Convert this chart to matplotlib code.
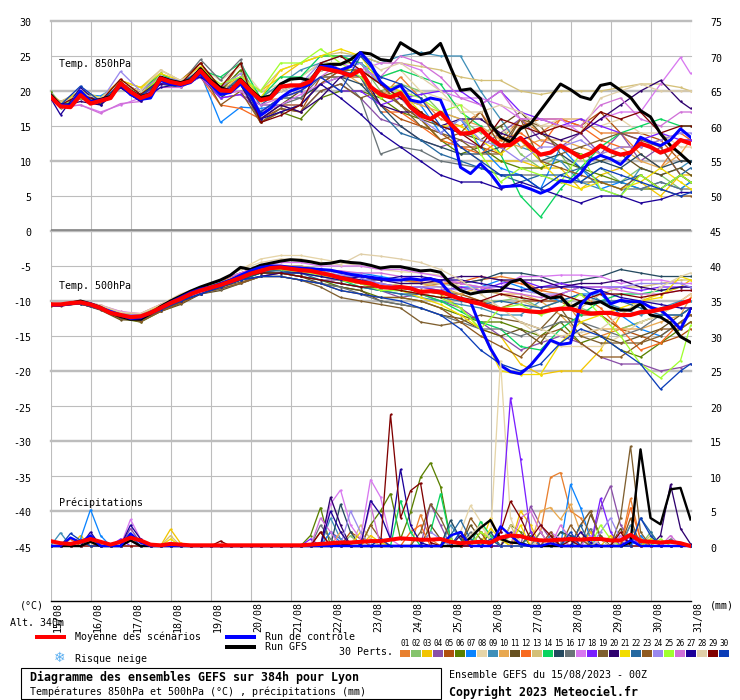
import numpy as np
import matplotlib
matplotlib.use('Agg')
import matplotlib.pyplot as plt
from matplotlib.patches import Rectangle
from matplotlib.transforms import ScaledTranslation

# date ticks and legend
dates = ['15/08','16/08','17/08','18/08','19/08','20/08','21/08','22/08','23/08',
         '24/08','25/08','26/08','27/08','28/08','29/08','30/08','31/08']
colors = ['#e8802f','#85c46c','#f2c500','#8a4fa8','#b0500f','#5a8000','#0a84ff','#e6d5a8','#3f8fb8','#e8a850',
          '#66501f','#f86a1f','#d4c078','#0ad45f','#254a60','#6a7478','#d878f0','#7a1fff','#7f5f2f','#2e006e',
          '#f2dc00','#2468a0','#8f5a20','#9a88ee','#a0ff30','#d070d8','#1c0099','#e0cfa8','#800000','#0a3cb8']
left_ticks = [30,25,20,15,10,5,0,-5,-10,-15,-20,-25,-30,-35,-40,-45]
right_ticks = [75,70,65,60,55,50,45,40,35,30,25,20,15,10,5,0]

# 6h steps for the main runs
t850_mean = [19.2,17.8,17.7,19.4,18.2,18.6,19,21.1,19.9,19,19.5,21.8,21.3,21,21.4,22.9,21.3,20.1,20,21.5,20,18.7,19,20.6,20.8,20.8,21.4,23.3,23,22.7,22.2,23,
             20.6,19.5,19.1,19.7,17.7,16.5,16,16.9,15.3,13.9,14,14.6,13.2,12.2,12.3,13.3,12,10.9,11.2,12.2,11.4,10.5,11.1,12.2,11.4,10.9,11.2,12.5,12,11.2,11.7,13,12.5]
t850_ctrl = [19,18,18,20,18.5,18.7,19,21,19.5,18.8,19,21.5,21,20.8,21.2,22.5,21,19.5,19.8,21,19.5,16.5,17.5,19,20,20.5,21,23.5,23.5,23,23.5,25.5,
             23.9,21.3,20.1,20.8,18.7,18.4,19,18.7,15.3,9.1,8.2,9.6,8.2,6.3,6.4,6.5,6,5.4,6,7.2,7,8.2,10.1,10.8,10.3,9.5,11,13.4,12.7,12.2,13,14.6,13.4]
t850_gfs = [19.5,18,18,19.5,18.5,18.8,19.2,21.2,20,19.2,19.6,22,21.5,21.2,21.6,23.2,21.6,20.5,20,21.7,20.2,19,19.3,21,21.7,21.8,21.5,23.6,23.8,23.8,24.5,25.5,
            25.3,24.5,24.3,26.9,26,25.2,25.5,26.8,23.4,20.1,20.3,18.9,15.3,13.4,12.7,14.6,15.3,17.2,19.1,21,20.2,19.2,18.8,20.8,21.1,20.1,19.1,17.2,16.3,13.9,12.2,11,9.7]

t500_mean = [-10.5,-10.5,-10.3,-10.2,-10.5,-11,-11.7,-12,-12.3,-12.2,-11.7,-11,-10.3,-9.7,-9,-8.5,-8.1,-7.7,-7.2,-6.7,-6.1,-5.7,-5.3,-5.2,-5.4,-5.6,-5.7,-6,-6.3,-6.7,-7,-7.3,
             -7.5,-8,-8.1,-8,-8.2,-8.7,-8.6,-8.7,-9.2,-9.7,-10.1,-10.4,-10.9,-11.2,-11.3,-11.3,-11.5,-11.6,-11.3,-11.1,-11.1,-11.5,-11.8,-11.7,-11.7,-12,-12,-11.6,-11.5,-11.2,-10.9,-10.4,-9.9]
t500_ctrl = [-10.6,-10.6,-10.4,-10.2,-10.4,-11,-11.5,-12,-12.5,-12.4,-11.6,-11,-10.2,-9.5,-8.8,-8.3,-8,-7.5,-7,-6.3,-5.7,-5.2,-5,-5,-5.2,-5.3,-5.4,-5.5,-5.6,-5.9,-6.2,-6.4,
             -6.6,-6.8,-7,-7,-6.8,-7,-6.8,-7.3,-9,-9.7,-10.1,-13.7,-16.8,-19.2,-20.1,-20.4,-19.2,-17.5,-15.6,-16.2,-16,-10.6,-9,-8.5,-10.4,-9.9,-10.1,-10.1,-10.9,-11.3,-12.5,-14,-11.3]
t500_gfs = [-10.5,-10.6,-10.3,-10,-10.4,-10.9,-11.7,-12.2,-12.6,-12.6,-11.8,-10.8,-10,-9.3,-8.6,-8,-7.5,-7,-6.3,-5.2,-5.5,-4.9,-4.6,-4.3,-4.1,-4.2,-4.4,-4.7,-4.6,-4.3,-4.5,-4.6,
            -4.9,-5.3,-5.1,-5.1,-5.4,-5.7,-5.6,-5.9,-7.5,-8.5,-9,-8.7,-8.6,-8.5,-7.3,-6.9,-8.2,-9,-9.6,-9.4,-10.9,-10.1,-10.4,-10.1,-10.9,-11.3,-11.3,-10.4,-12,-12.3,-13.2,-15.1,-15.9]

rain_mean = [0.7,0.4,0.3,0.6,1,0.6,0.2,0.6,1.2,0.8,0.2,0.1,0.3,0.2,0.1,0.1,0.1,0.1,0.1,0.1,0.1,0.1,0.1,0.1,0.1,0.1,0.2,0.3,0.4,0.5,0.5,0.6,
             0.7,0.7,0.9,1.1,1,0.9,0.9,1,0.6,0.4,0.5,0.6,0.5,1.2,1.5,1.4,1,0.8,0.8,0.9,1,0.9,1,1,0.8,0.8,1.6,0.7,0.6,0.5,0.6,0.4,0]
rain_ctrl = {2:1.2, 3:0.5, 4:1.5, 8:1.8, 9:0.5, 40:1.5, 41:2, 45:2.8, 46:1.5, 47:0.3, 50:0.4, 58:0.8}
rain_gfs = {4:0.6, 8:0.8, 29:0.4, 42:1.2, 43:2.6, 44:3.7, 45:1, 46:0.5, 47:0.4, 58:0.5, 59:13.8, 60:4, 61:3.1, 62:8.1, 63:8.3, 64:3.8}

# members, read at these 6h step numbers
member_steps = [0,1,3,5,7,9,11,13,15,17, 19,21,23,25,27,29,31,33, 35,37,39,41,43,45,47,49, 51,53,55,57,59,61,63,64]

t850_members = [
 [19.5,18,19.5,19,21,19.5,22,21,23,19.5, 22,17,19,20,23,23,23,19, 22,19,16,15,17,13,16,14, 16,16,14,14,11,9,13,13],
 [20,18.2,19,18.5,21,19.5,22.5,21,22.5,20, 23,19,21,22,24,24,24,20, 21,20,17,16,14,15,11,9, 11,7,9,7,9,8,6,7],
 [19.5,18.5,19.5,19,21.5,20.5,22,21,23,20.5, 22,20,22,24,25,25,24,21, 19,16,13,12,10,10,10,9, 9,6,8,9,7,5,8,8],
 [19.3,18,19,18.5,21,19,21.5,21,22.5,19, 19.5,18,18,17,20,21,19,16, 15,13,12,13,12,14,16,13, 12,14,11,14,10,12,8,7],
 [19.5,18,19.5,18.5,21,20,22,21.5,24,20, 24,16,17.5,17,22,22,22,18, 16,15,14,12,12,11,15,16, 16,15,17,14,14,13,10,10],
 [19.8,17.5,19,18.2,21,19.2,22,21,23,20, 23,15.5,17,16,19,20,20,19, 17,16,13,11,12,10,9,9, 10,9,8,7,6,6,8,7],
 [19,18.5,19.5,19.3,21,19.5,21.5,21,22.5,15.5, 17.7,17.5,18,18,21,23,24,21, 19,18,14,16,12,9,8,6, 12,9,6,7,6,7,6,7],
 [19.2,18,20,18.5,21,19.5,23,21.5,23.5,21.5, 23.5,20,21,22,24,24,25,22, 23,20,19,18,16,14,15,15, 16,16,15,16,14,14,12,12],
 [19,18,19,18.5,20.5,19,21.5,21,22.5,19, 22,19,21,23,24,25,25,24, 25,25.5,25,25,20,16,12,11, 10,7,6,5,9,8,9,10],
 [19.5,18,19.5,18.7,21,20,22.5,21,23,20, 21,18.5,19,20,23,23,21,20, 19,18,17,16,15,13,12,13, 13,12,11,12,10,9,11,13],
 [19,18,19,18.5,21,19,21.5,21,23,20.5, 21,17,18,20,22,23,23,21, 18,16,15,14,13,15,17,14, 12,11,10,11,9,8,9,8],
 [19.3,18,19,18.5,21,19.5,21.5,21,22,18, 17.5,16,18,18,21,23,22,17, 17,15,13,12,11,13,14,12, 16,15,13,12,12,13,14,13],
 [19.5,18.5,20,19,21.5,20.5,23,21.5,23,20, 22,20,23,24,25,25.5,25,24, 24,23.5,23,22,21.5,21.5,20,19.5, 20,20,20,20.5,21,21,20.5,20],
 [19.5,18,19.5,19,21,20,22.5,21,23,22, 24,19,22,22,25,25,24,22, 23,22,21,17,15,11,5,2, 6,9,12,14,15,16,15,15],
 [19,18,19,18.5,20.5,19,21,20.5,22,19, 21,17,19,19,21,22,21,18, 15,13,12,11,11,12,13,10, 11,9,10,9,11,9,10,10],
 [19.3,17.8,19,18.5,21,19.5,21.5,21,24.5,21.5, 24.5,16,18,19,22,22,19,11, 12,11.5,10,9.5,9,8,8,8, 7,7,7,6,6,7,6,6],
 [19,17.7,18,17,18,19,21,21,22,19, 19.5,17,18,19.5,21,22,23,24, 24,23,20,19,19,18,16,16, 16,14,16,17,17,21,24.8,22.5],
 [19.5,18,19.5,18.5,21,19,21,21,22,19, 19.5,17,19,20,22,20,20,18, 19,19.5,20,20,18,20,17,16, 15,16,15,14,13,14,13,13],
 [19.3,18,19.5,18.5,21,19.5,22,21,24,20, 21,15.5,17.5,17,20,21,19,20, 18,15,14,13,11,11,16,15, 11,12,13,14,13,12,8,7],
 [19,17.8,18.5,18,20.5,18.5,21,21,23,20, 21,16,18,17,19,22,23,18, 17,17,15,16,16,14,13,14, 13,14,16,18,20,21.5,18.5,17.5],
 [19.5,18.2,20,19,21.5,20.5,22.5,21.5,23.5,20.5, 22.5,19,23,24,25,26,25,21, 20,17,15,15,13,11,13,10, 7,6,7,6,7,9,7,6],
 [19,18,19.3,18.7,21,19.5,21.5,21,22.5,19.5, 22,18,20,21,23,23,22,17, 14,13,11,10,9,8,7,8, 8,9,7,7,8,6,8,9],
 [19.3,18,19.5,18.5,21,20,22,21,23,18, 20,15.5,17,18,21,23,23,21, 18,16,13,14,17,12,16,10, 9,8,7,6,8,6,5,5],
 [19.5,17.9,19.5,18.5,22.8,20,22,21.5,23,20.5, 22.5,17,19,21,24,23,24,21, 19,16,14,16,13,12,10,12, 12,13,11,12,12,13,14,14],
 [19.3,18,19,18.5,21,19.5,22,21,23,21, 22,20,24,24,26,24,22,19, 20,19,17,18,11,7,9,8, 7,11,6,5,8,6,8,7],
 [19,17.7,18,16.8,18.2,18.5,20.5,20.5,22,19.5, 20,18,19,20,22,24,23,22, 25,24,22,19,18,20,16,16, 15,15,18,19,16,15,17,17],
 [19,16.6,20.5,18,20.5,18.5,20.5,21,22,20, 21,16,17,18,21,19,16.7,14, 12,10,8,7,7,6,7,6, 5,4,5,5,4,4.5,5.5,5.5],
 [19.5,18.2,19.5,19,21,20,23,21.5,23,20, 21,19,20,21,23,24,25,23, 24,22,20,17,17,18,17,15, 15,14,19,20,21,20,20,20],
 [19.3,18,19.5,18.5,21.7,19.5,21.5,21,24,20.5, 24,15.5,16.5,18,24,25,23,21, 19,17,15,14,12,16,15,14, 15,14,17,16,17,14,15,15],
 [19,18,20.7,18.5,21,19.3,21.5,21,23,20, 21,17,19,20,22,20,25,22, 21,19,15,12,10,8,8,6, 8,7,9,8,7,6,5,5.5],
]

t500_members = [
 [-10.5,-10.6,-10,-10.8,-12,-12.5,-11,-9.5,-8,-7,-6,-5,-5,-5.5,-6,-6.5,-7,-7.5, -8,-8,-7.5,-7.5,-7,-6.5,-7,-8.5, -9,-13,-15,-14,-13,-12,-10,-9],
 [-10.5,-10.3,-10.2,-11,-11.8,-12,-11,-9.5,-8.5,-7.5,-6.5,-5.5,-5.5,-6,-6,-7,-7.5,-8, -8.5,-8,-8.5,-9,-10,-10,-9.5,-11,-10,-11,-12,-14,-13,-12,-10,-10],
 [-10.7,-10.4,-10.2,-11.2,-12.5,-12.4,-11,-10,-8.5,-7.5,-6.7,-5.8,-5.5,-6,-5.5,-7,-7,-8, -8,-8.5,-9,-11,-14,-15,-19,-20.5,-20,-20,-17,-12,-10,-9,-8,-7],
 [-10.6,-10.6,-10.3,-11,-12.2,-12,-11,-9.7,-8.7,-8,-6.8,-6,-6,-6.5,-7,-7,-7.5,-8.5, -9.5,-9,-10,-11,-13,-15,-17,-16,-15,-16,-18,-19,-19,-20,-19.5,-19],
 [-10.3,-10.4,-10,-11,-12,-12.3,-11,-9.5,-8.5,-7.5,-6.5,-5.5,-5,-5.5,-6,-7,-7.5,-8, -8,-8.5,-9,-9,-10,-11,-10,-10,-10,-12,-12,-14,-15,-16,-15,-14],
 [-10.4,-10.5,-10.2,-11.2,-12.5,-13,-11.5,-10,-9,-8,-7,-6,-6,-6.5,-7,-8,-8.5,-9.5, -9.5,-10,-11,-12,-13,-13,-14,-15,-13,-16,-15,-17,-18,-16,-14,-13],
 [-10.5,-10.6,-10.2,-10.8,-11.8,-12,-10.8,-9.5,-8,-7,-6,-5.2,-5,-5,-5.5,-6,-6,-6.5, -7,-7.5,-7.5,-8,-8,-7,-8,-9,-10,-9,-9,-12,-14,-15,-13,-12],
 [-10.6,-10.4,-10,-10.6,-11.5,-12,-10.8,-9.5,-8.5,-7,-5.5,-4,-3.5,-3.5,-4,-4.5,-5,-5.5, -5.8,-6,-6.3,-8,-9,-11,-13,-15,-16.5,-16.5,-16.5,-15,-13,-12,-10,-9],
 [-10.5,-10.5,-10.4,-11.2,-12.2,-12.2,-11,-10,-9,-8,-7,-6,-6,-6.5,-7,-7.5,-8,-8.5, -9,-9.5,-10,-10.5,-11,-12,-12,-10,-9,-8,-10,-11,-12,-11,-10,-10],
 [-10.4,-10.3,-10.1,-10.7,-11.8,-11.8,-10.5,-9.2,-8,-7.5,-6.5,-5.5,-5,-5,-5.5,-6,-6.5,-7, -7,-7.5,-8,-9,-8,-9,-9,-10,-12,-15,-14,-14,-14,-13,-12,-9.5],
 [-10.7,-10.6,-10.4,-11.3,-12.7,-12.7,-11.5,-10.5,-9,-8.5,-7.5,-6.5,-6,-6.5,-7.5,-8,-8.5,-10, -10.5,-11,-12,-12.5,-14,-15,-14,-16,-12,-13,-15,-16,-15,-14,-12,-11],
 [-10.5,-10.4,-10,-10.8,-11.8,-12.2,-11,-9.6,-8.2,-7.2,-6,-5,-5.2,-5.5,-6,-6.5,-6.5,-7, -7,-7.3,-7.5,-7.3,-6.5,-7,-7.5,-8.5,-8,-9,-11,-14,-17,-16,-13,-12],
 [-10.5,-10.5,-10.2,-11,-12,-12.3,-11,-10,-8.5,-7.5,-6.5,-6,-5.5,-6,-6.5,-7,-7.5,-8, -7.5,-7.5,-7.5,-8,-8.5,-9,-10,-11,-10,-11,-9,-8,-8,-7.5,-7,-7],
 [-10.6,-10.5,-10.2,-11,-12.3,-12.4,-11,-9.8,-8.7,-7.8,-7,-6,-6,-6,-6.5,-7,-8,-8.5, -8.5,-9,-10,-11.5,-13,-14,-16.5,-17,-14,-12,-10,-9,-9,-8.5,-8,-8],
 [-10.5,-10.6,-10.4,-11.2,-12.3,-12.5,-11.3,-10.2,-9,-8,-7,-6,-5.5,-5.5,-6,-6.5,-6.5,-7, -7,-7,-7,-7.5,-7,-6,-6,-6.5,-7.5,-7,-6.5,-5.5,-6,-6.5,-6.5,-6.5],
 [-10.5,-10.4,-10.3,-11.2,-12.4,-12.5,-11.3,-10,-9,-8.3,-7.5,-6.5,-6.5,-7,-7.5,-8,-9,-10, -10.5,-11,-12,-13,-14,-14,-15,-14,-13,-13,-14,-15,-14,-12,-12,-11],
 [-10.4,-10.3,-10,-10.6,-11.5,-11.8,-10.5,-9.3,-8,-7,-6,-5,-4.5,-4.5,-5,-5,-5,-5.5, -5.5,-6,-6.5,-7.5,-8,-8,-6.5,-6.5,-6.3,-6.3,-6.5,-7.5,-7,-7,-7.5,-7.5],
 [-10.5,-10.5,-10.2,-10.9,-12,-12.2,-11,-9.8,-8.7,-7.7,-6.7,-5.7,-5.3,-5.5,-6,-6.5,-7,-7.5, -8,-8,-8.5,-8,-8.5,-7.5,-7,-8,-7.5,-8,-8,-8,-8.5,-8,-8,-8],
 [-10.6,-10.6,-10.4,-11.2,-12.2,-13,-11.5,-10.3,-9,-8,-7.3,-6.5,-6.5,-7,-8,-9.5,-10,-10.5, -11,-13,-13.5,-13,-12,-12.5,-13,-14,-11,-15,-16,-16,-16,-15,-13,-12],
 [-10.5,-10.5,-10.2,-11,-12,-12,-10.8,-9.5,-8.5,-7.5,-6.3,-5.5,-5.5,-5.5,-6,-6.5,-7,-7, -7.5,-7.5,-7,-6.5,-6.5,-7,-7,-7,-8,-7.5,-7.5,-7,-8,-8.5,-8,-8],
 [-10.5,-10.4,-10.1,-10.7,-11.7,-12,-10.6,-9.5,-8.3,-7.5,-6.5,-5.5,-5.3,-5.5,-6,-7,-7.5,-8, -8.5,-9.5,-10.5,-12,-14,-20,-20.5,-20.5,-16,-13,-12,-11,-10,-9.5,-6.5,-7],
 [-10.4,-10.5,-10.2,-11,-12,-12.3,-11,-9.7,-8.5,-7.5,-6.7,-5.7,-5.7,-6,-7,-7.5,-8,-8.5, -9,-9,-9.5,-10,-10.5,-10,-10.5,-11,-10,-9,-10,-10,-11,-12,-12,-11],
 [-10.6,-10.7,-10.4,-11.2,-12.5,-12.8,-11.5,-10.3,-9,-8.2,-7.5,-6.5,-6.5,-7,-7.5,-8.5,-9,-9.5, -9.5,-10,-11,-13,-15,-16.5,-18,-15,-14,-16,-18,-18,-16,-14,-14,-13],
 [-10.5,-10.5,-10.1,-10.8,-11.8,-12,-10.9,-9.6,-8.4,-7.4,-6.4,-5.4,-5.1,-5.4,-5.8,-6.3,-6.7,-7.5, -8,-8,-8,-8.5,-8,-8,-8.5,-9,-9,-8,-8,-8,-7.5,-7.5,-7.5,-8],
 [-10.5,-10.4,-10.2,-11,-12,-12.2,-10.8,-9.5,-8.3,-7.3,-6.5,-5.5,-5.5,-5.8,-6.3,-7,-7.5,-8.5, -8.5,-9,-9.5,-11,-14,-11,-10.5,-12,-11,-9,-12,-15,-19,-21,-18.5,-13.5],
 [-10.6,-10.6,-10.3,-11,-12,-12.2,-11,-9.8,-8.7,-7.7,-6.5,-5.7,-5.2,-5.2,-5.5,-5.7,-6,-6, -6.5,-7,-7,-7.5,-8,-8.5,-9,-9.5,-9,-8,-8,-8.5,-9,-9,-8.5,-8.5],
 [-10.4,-10.5,-10.2,-11,-12.2,-12.5,-11.2,-10,-9,-8,-7,-6.5,-6,-6,-6.5,-7,-6.5,-7, -6.5,-6.5,-7,-7,-7.5,-8,-8.5,-8,-8,-8,-8.5,-9.5,-10,-10.5,-11,-11],
 [-10.5,-10.3,-10,-10.6,-11.6,-11.8,-10.5,-9,-8,-7,-5.5,-4.5,-4,-4,-4.5,-4.8,-3.3,-3.6, -4,-4.5,-5.5,-7,-9,-11,-13,-14,-15,-14.5,-14,-12,-10,-8,-6.5,-6],
 [-10.5,-10.5,-10.2,-11,-12.2,-12.4,-11,-10,-8.5,-7.5,-6.5,-6,-6,-6.5,-7,-7.5,-8,-8, -8.5,-9,-9.5,-9.5,-10,-9,-9.5,-10,-9,-10,-9,-9,-9.5,-9,-8.5,-8.5],
 [-10.6,-10.6,-10.4,-11.2,-12.3,-12.6,-11.3,-10,-9,-8,-7,-6.5,-6.5,-7,-7.5,-8.5,-9,-9.5, -10,-11,-12,-14,-17,-19,-20,-19,-16,-14,-15,-17,-19,-22.6,-20,-19],
]

# precipitation of the members, only the wet steps (mm)
rain_members = [
 {5:0.5, 37:4.5, 38:1, 49:2, 50:9.8, 51:10.5, 52:5, 53:4, 54:2, 58:6.8, 59:1},
 {4:1, 8:1.5, 30:1.5, 44:1, 46:1.5, 51:2, 52:1, 60:2},
 {3:1.5, 12:2.4, 13:0.4, 32:1.5, 33:0.5, 44:4, 45:1, 47:5, 48:3, 51:1, 54:2, 56:1.5},
 {8:2.5, 9:0.5, 28:2, 29:1, 38:6, 39:3, 48:5.7, 49:3, 50:1, 52:1.5, 55:5.5, 56:8.6, 57:3, 58:1},
 {30:2, 31:1, 43:2, 44:1, 53:3, 54:5, 55:1, 58:3},
 {26:1.5, 27:5.5, 32:3, 33:5, 34:7.5, 35:1, 36:4.8, 37:9.8, 38:11.9, 39:8.5, 40:1, 46:3, 47:2},
 {3:1, 4:5.2, 5:1.5, 28:2, 29:0.5, 41:2, 52:8.8, 53:5.5, 54:1, 59:1.5},
 {41:2, 42:5.8, 43:3.5, 44:1, 45:26.5, 46:4, 47:0.5},
 {1:1.9, 3:0.8, 28:4, 29:1, 40:3, 41:1, 50:1.5, 53:1, 58:3, 59:0.5},
 {8:1.2, 29:2, 33:1, 49:5, 50:5.5, 51:3.8, 52:6, 53:2},
 {38:3, 39:1, 42:3, 43:1, 48:2, 54:4.5, 55:1.5, 57:2.5},
 {2:1, 36:2, 37:3, 47:1.5, 48:1, 58:5.5, 59:1},
 {12:1.5, 31:3, 32:1, 46:3, 49:2, 60:1.5},
 {35:6.5, 36:2, 38:2, 39:7.5, 40:1, 43:3.5, 44:1.5, 52:1, 60:1},
 {29:6, 30:2, 40:3.7, 41:1, 44:2, 51:2, 52:1.5, 57:1},
 {8:0.8, 27:3, 28:1, 42:2, 49:2, 54:2.5, 62:1},
 {8:3.8, 9:1, 28:6, 29:8, 30:3, 31:1, 32:9.5, 33:7, 34:1, 50:2, 51:1, 54:1.5, 57:1.5},
 {7:1, 26:1, 45:2, 46:21.2, 47:12.5, 48:2, 55:6.8, 56:2, 58:1.5},
 {37:2, 38:6, 39:4, 40:1, 53:3, 54:5, 55:1, 57:4, 58:14.3, 59:2},
 {28:7, 29:3, 41:1.5, 46:2, 61:1.5, 62:8.8, 63:2.5, 64:0.3},
 {12:1, 31:2, 44:2.5, 45:1, 47:3, 60:1},
 {40:1.5, 41:3.7, 42:1, 48:1.5, 53:3, 59:4, 60:2},
 {27:2, 32:3, 33:1, 42:4, 43:2, 50:2, 52:3, 53:1, 58:4},
 {30:5, 31:2, 38:2, 39:1, 55:2, 56:4, 57:1},
 {10:0.3, 40:1, 43:2, 44:1, 55:3, 56:1, 61:1},
 {27:4, 28:2, 32:6, 47:4, 48:5, 49:2, 51:3, 52:1, 62:1.5},
 {4:2, 8:3, 9:1, 28:5, 29:2, 32:6.5, 33:4.5, 34:1, 35:11, 36:3, 37:0.5, 53:2, 54:0.5},
 {42:1.5, 43:3, 44:1, 49:1, 55:1, 57:1},
 {17:0.7, 27:2, 34:18.8, 35:4, 36:7.9, 37:9, 38:0.5, 45:2, 46:6.4, 47:4, 48:1, 49:3, 50:1.5, 52:0.8, 57:2},
 {2:1.8, 3:0.8, 8:1.5, 33:1, 41:2, 44:1, 52:2, 59:4, 60:1.5},
]

PX = 1 / 100 * 72  # one pixel in points
MONO = 'DejaVu Sans Mono'
plt.rcParams['font.family'] = MONO
plt.rcParams['font.size'] = 7.2

def wet(dic):
    vals = np.zeros(65)
    for k, v in dic.items():
        vals[k] = v
    return vals

fig = plt.figure(figsize=(7.4, 7.0), dpi=100, facecolor='white')

# one px = 1/7 degree, 0 degree at y=231
y_low = -(600.5 - 231) / 7
ax = fig.add_axes([50.5/740, 1 - 600.5/700, 640/740, 579.5/700])
ax.set_xlim(0, 64)
ax.set_ylim(y_low, 30)
ax.set_facecolor('none')
for s in ['top', 'left', 'right']:
    ax.spines[s].set_visible(False)
ax.spines['bottom'].set_color('black')
ax.spines['bottom'].set_linewidth(1.0)

grid_col = '#bdbdbd'
ax.vlines(np.arange(0, 65, 4), y_low, 30, color=grid_col, lw=1.1*PX, zorder=1)
for v in left_ticks:
    ax.axhline(v, color=grid_col, lw=(2.4 if v % 10 == 0 else 1.1)*PX, zorder=1, clip_on=False)
ax.axhline(0.15, color='#808080', lw=1.6*PX, zorder=1.2)

ax.set_yticks(left_ticks)
ax.set_yticklabels([str(v) for v in left_ticks])
ax.tick_params(axis='y', length=0, pad=19*PX)
ax.set_xticks(np.arange(0, 65, 4))
ax.set_xticklabels(dates, rotation=90, ha='left', va='top')
ax.tick_params(axis='x', length=0, pad=1.5*PX)
for lab in ax.get_xticklabels():
    lab.set_transform(lab.get_transform() + ScaledTranslation(2.5/100, 0, fig.dpi_scale_trans))
for lab in ax.get_yticklabels():
    lab.set_transform(lab.get_transform() + ScaledTranslation(0, -1.5/100, fig.dpi_scale_trans))

steps = np.arange(65)
m_thin = dict(lw=1.3*PX, marker='o', ms=1.7, mew=0, solid_joinstyle='miter')

for m, col in zip(t850_members, colors):
    ax.plot(member_steps, m, color=col, zorder=2, **m_thin)
for m, col in zip(t500_members, colors):
    ax.plot(member_steps, m, color=col, zorder=2, **m_thin)

ax.plot(steps, t850_gfs, color='black', lw=3*PX, zorder=3)
ax.plot(steps, t500_gfs, color='black', lw=3*PX, zorder=3)
ax.plot(steps, t850_ctrl, color='#0000ff', lw=3*PX, zorder=3.1)
ax.plot(steps, t500_ctrl, color='#0000ff', lw=3*PX, zorder=3.1)
ax.plot(steps, t850_mean, color='#ff0000', lw=4.2*PX, zorder=3.2)
ax.plot(steps, t500_mean, color='#ff0000', lw=4.2*PX, zorder=3.2)

# right axis: mm, same pixels per unit
ax2 = ax.twinx()
ax2.set_ylim(y_low + 45, 75)
ax2.set_facecolor('none')
for s in ax2.spines.values():
    s.set_visible(False)
ax2.set_yticks(right_ticks)
ax2.set_yticklabels([str(v) for v in right_ticks])
ax2.tick_params(axis='y', length=0, pad=19.5*PX)
for lab in ax2.get_yticklabels():
    lab.set_transform(lab.get_transform() + ScaledTranslation(0, -1.5/100, fig.dpi_scale_trans))

for m, col in zip(rain_members, colors):
    ax2.plot(steps, wet(m), color=col, zorder=2, **m_thin)
ax2.plot(steps, wet(rain_gfs), color='black', lw=2.4*PX, zorder=3)
ax2.plot(steps, wet(rain_ctrl), color='#0000ff', lw=2.4*PX, zorder=3.1)
ax2.plot(steps, rain_mean, color='#ff0000', lw=4*PX, zorder=3.2)

ov = fig.add_axes([0, 0, 1, 1])
ov.set_xlim(0, 740)
ov.set_ylim(700, 0)
ov.axis('off')
ov.set_facecolor('none')

def label(x, y, s, **kw):
    ov.text(x, y, s, va='center', ha=kw.pop('ha', 'left'), **kw)

label(59, 64, 'Temp. 850hPa')
label(59, 286, 'Temp. 500hPa')
label(59, 503, 'Précipitations')
label(20, 606, '(°C)')
label(9.5, 623, 'Alt. 340m')
label(710, 606, '(mm)')

ov.plot([35, 66], [637, 637], color='#ff0000', lw=4*PX, solid_capstyle='butt')
ov.plot([225, 256], [637, 637], color='#0000ff', lw=4*PX, solid_capstyle='butt')
ov.plot([225, 256], [647, 647], color='black', lw=4*PX, solid_capstyle='butt')
label(75, 637, 'Moyenne des scénarios')
label(265, 637, 'Run de contrôle')
label(265, 647, 'Run GFS')
label(60, 658, '\u2744', color='#5aaef0', fontsize=10, ha='center', family='DejaVu Sans')
label(75, 659, 'Risque neige')
label(339, 652, '30 Perts.')

for k, col in enumerate(colors):
    x0 = 400 + 11 * k
    ov.add_patch(Rectangle((x0, 650), 10, 6.5, facecolor=col, edgecolor='none'))
    ov.text(x0 + 5, 644, '%02d' % (k + 1), ha='center', va='center', fontsize=5.6)

ov.add_patch(Rectangle((20.5, 667.5), 420.5, 31.5, facecolor='white', edgecolor='black', lw=1.1*PX))
label(29.5, 677, 'Diagramme des ensembles GEFS sur 384h pour Lyon', fontsize=8.4, fontweight='bold')
label(29.5, 692, 'Températures 850hPa et 500hPa (°C) , précipitations (mm)')
label(449, 675, 'Ensemble GEFS du 15/08/2023 - 00Z')
label(449, 692, 'Copyright 2023 Meteociel.fr', fontsize=8.4, fontweight='bold')

fig.savefig('out.png', dpi=100, facecolor='white')
